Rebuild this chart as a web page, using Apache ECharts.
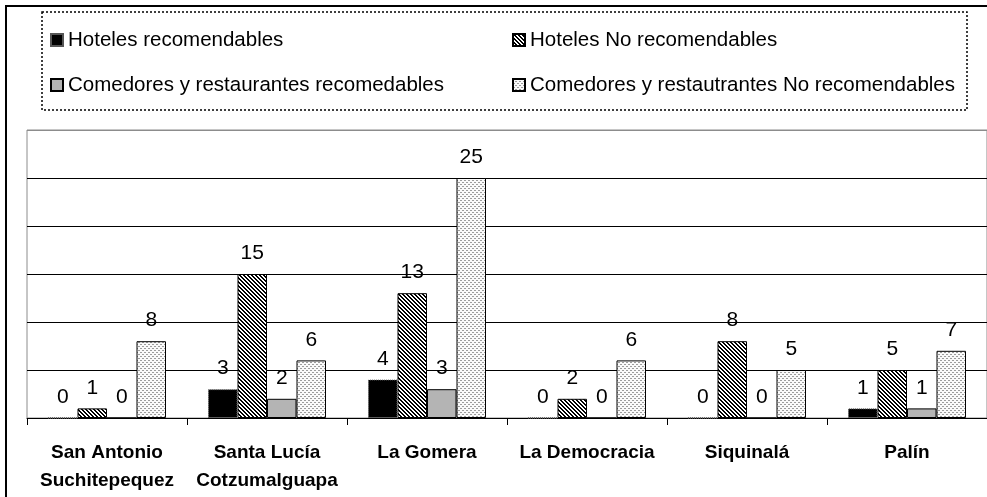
<!DOCTYPE html>
<html>
<head>
<meta charset="utf-8">
<script src="https://cdn.jsdelivr.net/npm/echarts@6/dist/echarts.min.js"></script>
<style>
  html, body { margin: 0; padding: 0; background: #fff; }
  #chart { width: 987px; height: 497px; }
</style>
</head>
<body>
<div id="chart"></div>
<script>
// Municipios
const categories = [
  'San Antonio\nSuchitepequez',
  'Santa Lucía\nCotzumalguapa',
  'La Gomera',
  'La Democracia',
  'Siquinalá',
  'Palín'
];

const seriesNames = [
  'Hoteles recomendables',
  'Hoteles No recomendables',
  'Comedores y restaurantes recomedables',
  'Comedores y restautrantes No recomendables'
];

const hotelesRecomendables = [0, 3, 4, 0, 0, 1];
const hotelesNoRecomendables = [1, 15, 13, 2, 8, 5];
const comedoresRecomendables = [0, 2, 3, 0, 0, 1];
const comedoresNoRecomendables = [8, 6, 25, 6, 5, 7];

const yTicks = [0, 5, 10, 15, 20, 25, 30];

// Fill patterns drawn on small canvases
function makePattern(size, paint) {
  const c = document.createElement('canvas');
  c.width = size; c.height = size;
  const ctx = c.getContext('2d');
  paint(ctx);
  return { image: c, repeat: 'repeat' };
}

// diagonal "\" hatching
const hatch = makePattern(4, ctx => {
  ctx.fillStyle = '#fff';
  ctx.fillRect(0, 0, 4, 4);
  ctx.fillStyle = '#000';
  for (let i = 0; i < 4; i++) {
    ctx.fillRect(i, i, 1, 1);
    ctx.fillRect((i + 1) % 4, i, 1, 1);
  }
});

// staggered gray dashes on white
const stipple = makePattern(4, ctx => {
  ctx.fillStyle = '#fafafa';
  ctx.fillRect(0, 0, 4, 4);
  ctx.fillStyle = '#9c9c9c';
  ctx.fillRect(0, 0, 2, 1);
  ctx.fillRect(2, 2, 2, 1);
});

const FONT = "'Liberation Sans', Arial, sans-serif";

const labelStyle = {
  show: true,
  position: 'top',
  distance: 10,
  fontFamily: FONT,
  fontSize: 21,
  color: '#000'
};

function barSeries(name, data, itemStyle) {
  return {
    name,
    type: 'bar',
    data,
    barWidth: 29.5,
    barGap: '0%',
    label: labelStyle,
    itemStyle: Object.assign({ borderColor: '#000', borderWidth: 1 }, itemStyle),
    emphasis: { disabled: true }
  };
}

const chart = echarts.init(document.getElementById('chart'), null, { renderer: 'canvas' });

const legendText = { fontFamily: FONT, fontSize: 20.5, color: '#000', lineHeight: 24 };

chart.setOption({
  animation: false,
  backgroundColor: '#fff',
  graphic: [
    {
      type: 'rect',
      shape: { x: 6, y: 6, width: 1000, height: 500 },
      style: { fill: null, stroke: '#000', lineWidth: 2 },
      silent: true,
      z: 100
    },
    {
      type: 'rect',
      shape: { x: 42, y: 12, width: 925, height: 98 },
      style: { fill: null, stroke: '#000', lineWidth: 1.5, lineDash: [2, 2] },
      silent: true,
      z: 100
    }
  ],
  legend: [
    {
      data: [seriesNames[0], seriesNames[2]],
      orient: 'vertical',
      left: 50,
      top: 28,
      padding: 0,
      itemGap: 21,
      itemWidth: 12,
      itemHeight: 12,
      icon: 'rect',
      selectedMode: false,
      textStyle: legendText
    },
    {
      data: [seriesNames[1], seriesNames[3]],
      orient: 'vertical',
      left: 512,
      top: 28,
      padding: 0,
      itemGap: 21,
      itemWidth: 12,
      itemHeight: 12,
      icon: 'rect',
      selectedMode: false,
      textStyle: legendText
    }
  ],
  grid: {
    left: 27,
    top: 130,
    width: 966,
    height: 288,
    show: true,
    borderColor: '#8c8c8c',
    borderWidth: 1,
    backgroundColor: '#fff'
  },
  xAxis: {
    type: 'category',
    data: categories,
    axisLine: { lineStyle: { color: '#000', width: 1 } },
    axisTick: { show: true, length: 7, alignWithLabel: false, lineStyle: { color: '#000' } },
    axisLabel: {
      interval: 0,
      margin: 21,
      fontFamily: FONT,
      fontSize: 19,
      fontWeight: 'bold',
      lineHeight: 28,
      color: '#000'
    }
  },
  yAxis: {
    type: 'value',
    min: yTicks[0],
    max: yTicks[yTicks.length - 1],
    interval: 5,
    axisLine: { show: false },
    axisTick: { show: false },
    axisLabel: { show: false },
    splitLine: {
      show: true,
      lineStyle: { color: ['#000', '#000', '#000', '#000', '#000', '#000', '#8c8c8c'], width: 1 }
    }
  },
  series: [
    barSeries(seriesNames[0], hotelesRecomendables, { color: '#000', borderType: 'dotted', borderColor: '#555' }),
    barSeries(seriesNames[1], hotelesNoRecomendables, { color: hatch }),
    barSeries(seriesNames[2], comedoresRecomendables, { color: '#b4b4b4' }),
    barSeries(seriesNames[3], comedoresNoRecomendables, { color: stipple })
  ]
});
</script>
</body>
</html>
